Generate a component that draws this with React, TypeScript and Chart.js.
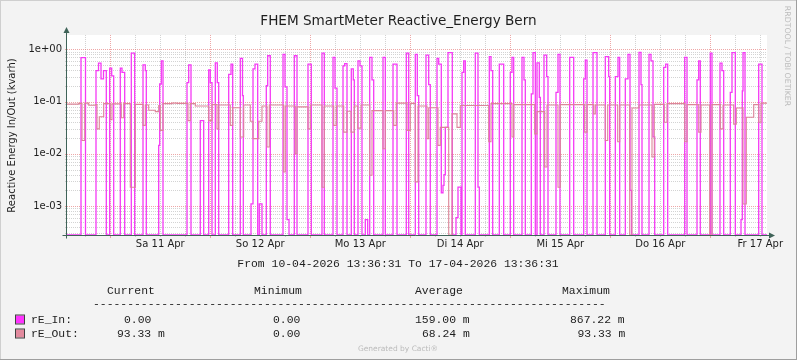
import React, { useEffect, useRef } from "react";
import { Chart, registerables } from "chart.js";

Chart.register(...registerables);

// ---------- texts ----------
const TITLE = "FHEM SmartMeter Reactive_Energy Bern";
const Y_TITLE = "Reactive Energy In/Out (kvarh)";
const PERIOD = "From 10-04-2026 13:36:31 To 17-04-2026 13:36:31";
const CREDIT = "Generated by Cacti\u00AE";
const WATERMARK = "RRDTOOL / TOBI OETIKER";

// ---------- axes ----------
// time axis in days after 10-04-2026 13:36:31
const X_MIN = 0;
const X_MAX = 7;
const FIRST_MIDNIGHT = 0.43298; // 11-04-2026 00:00
const xTickLabels = ["Sa 11 Apr", "So 12 Apr", "Mo 13 Apr", "Di 14 Apr", "Mi 15 Apr", "Do 16 Apr", "Fr 17 Apr"];
const yTickValues = [1e-3, 1e-2, 1e-1, 1];
const yTickLabels = ["1e-03", "1e-02", "1e-01", "1e+00"];
const Y_MIN = 2.8e-4;
const Y_MAX = 1.87;

// ---------- series: change points (value holds until next time) ----------
const inTimes = [
  0,
  0.140, 0.185,
  0.290, 0.315, 0.340, 0.365, 0.393,
  0.427, 0.447, 0.467,
  0.533, 0.550, 0.577,
  0.643, 0.677,
  0.760, 0.783, 0.793,
  0.917, 0.927, 0.943, 0.960,
  1.200, 1.217, 1.240,
  1.333, 1.367,
  1.417, 1.433, 1.450,
  1.483, 1.503, 1.517,
  1.617, 1.640, 1.657,
  1.733, 1.755, 1.763,
  1.840, 1.860, 1.880, 1.907,
  1.923, 1.950,
  1.993, 2.007, 2.033,
  2.160, 2.180, 2.200, 2.220,
  2.273, 2.300,
  2.410, 2.443,
  2.550, 2.573,
  2.660, 2.680, 2.700,
  2.760, 2.777, 2.800,
  2.843, 2.863, 2.873,
  2.910, 2.930, 2.950,
  2.983, 3.007,
  3.027, 3.050, 3.067,
  3.160, 3.183,
  3.260, 3.300,
  3.393, 3.417,
  3.483, 3.503, 3.517,
  3.590, 3.617, 3.633,
  3.700, 3.717, 3.743, 3.760, 3.770, 3.783, 3.810, 3.853,
  3.890, 3.910, 3.940,
  3.950, 3.967, 3.983,
  4.083, 4.110, 4.123,
  4.223, 4.240, 4.257,
  4.323, 4.367,
  4.433, 4.450, 4.467,
  4.550, 4.570, 4.583,
  4.643, 4.660, 4.683,
  4.700, 4.723, 4.733,
  4.770, 4.797, 4.810,
  4.890, 4.910, 4.930,
  5.027, 5.067,
  5.167, 5.183, 5.200,
  5.260, 5.300,
  5.383, 5.417, 5.427,
  5.483, 5.510, 5.527,
  5.583, 5.610, 5.630, 5.645,
  5.720, 5.740, 5.750,
  5.820, 5.840, 5.860, 5.877,
  5.967, 5.987, 6.007,
  6.177, 6.200,
  6.300, 6.317, 6.333,
  6.433, 6.450,
  6.530, 6.550, 6.567,
  6.633, 6.650, 6.683,
  6.740, 6.753, 6.760, 6.780,
  6.917, 6.950,
];
const inValues = [
  0,
  0.69, 0,
  0.39, 0.54, 0.27, 0.39, 0,
  0.435, 0.31, 0,
  0.435, 0.36, 0,
  0.84, 0,
  0.50, 0.39, 0,
  0.0145, 0.216, 0.60, 0,
  0.23, 0.50, 0,
  0.043, 0,
  0.40, 0.23, 0,
  0.55, 0.23, 0,
  0.33, 0.52, 0,
  0.67, 0.13, 0,
  0.0011, 0.42, 0.52, 0,
  0.0011, 0,
  0.20, 0.75, 0,
  0.80, 0.19, 0.00055, 0,
  0.75, 0,
  0.52, 0,
  0.84, 0,
  0.70, 0.18, 0,
  0.48, 0.53, 0,
  0.42, 0.26, 0,
  0.60, 0.48, 0,
  0.00055, 0,
  0.70, 0.26, 0,
  0.70, 0,
  0.52, 0,
  0.84, 0,
  0.80, 0.13, 0,
  0.77, 0.21, 0,
  0.67, 0.52, 0.0018, 0.0025, 0.004, 0.032, 0.86, 0,
  0.0006, 0.0023, 0,
  0.36, 0.60, 0,
  0.84, 0.0023, 0,
  0.72, 0.39, 0,
  0.52, 0,
  0.36, 0.70, 0,
  0.70, 0.26, 0,
  0.14, 0.86, 0,
  0.55, 0.12, 0,
  0.77, 0.30, 0,
  0.15, 0.80, 0,
  0.70, 0,
  0.27, 0.62, 0,
  0.86, 0,
  0.72, 0.30, 0,
  0.30, 0.70, 0,
  0.27, 0.80, 0.002, 0,
  0.867, 0.21, 0,
  0.80, 0.60, 0.021, 0,
  0.45, 0.52, 0,
  0.70, 0,
  0.26, 0.60, 0,
  0.84, 0,
  0.54, 0.39, 0,
  0.15, 0.86, 0,
  0.00055, 0.16, 0.86, 0,
  0.52, 0,
];

const outTimes = [
  0.000, 0.117, 0.150, 0.177, 0.217, 0.283, 0.300, 0.323, 0.367, 0.433,
  0.450, 0.543, 0.567, 0.633, 0.683, 0.760, 0.783, 0.817, 0.883, 0.917,
  0.933, 0.960, 1.050, 1.100, 1.210, 1.233, 1.283, 1.417, 1.450, 1.500,
  1.517, 1.633, 1.657, 1.733, 1.767, 1.833, 1.860, 1.917, 1.950, 2.000,
  2.023, 2.167, 2.183, 2.283, 2.300, 2.410, 2.433, 2.550, 2.573, 2.667,
  2.693, 2.767, 2.800, 2.840, 2.873, 2.907, 2.940, 3.027, 3.050, 3.160,
  3.183, 3.267, 3.293, 3.400, 3.433, 3.483, 3.510, 3.600, 3.617, 3.710,
  3.733, 3.817, 3.850, 3.900, 3.933, 4.217, 4.240, 4.450, 4.467, 4.677,
  4.700, 4.777, 4.800, 4.910, 4.933, 5.177, 5.200, 5.267, 5.283, 5.383,
  5.407, 5.507, 5.527, 5.627, 5.650, 5.720, 5.850, 5.873, 5.973, 6.000,
  6.177, 6.200, 6.317, 6.340, 6.427, 6.450, 6.533, 6.560, 6.667, 6.693,
  6.760, 6.793, 6.867, 6.917, 6.940, 7.000,
];
const outValues = [
  0.089, 0.092, 0.018, 0.0933, 0.085, 0.087, 0.030, 0.051, 0.091, 0.045,
  0.090, 0.049, 0.091, 0.0023, 0.088, 0.035, 0.086, 0.068, 0.064, 0.084,
  0.028, 0.091, 0.0933, 0.092, 0.043, 0.091, 0.082, 0.043, 0.087, 0.030,
  0.086, 0.035, 0.076, 0.021, 0.086, 0.042, 0.0195, 0.042, 0.082, 0.0135,
  0.086, 0.0045, 0.082, 0.010, 0.079, 0.030, 0.086, 0.0023, 0.082, 0.035,
  0.082, 0.026, 0.065, 0.026, 0.082, 0.031, 0.086, 0.0039, 0.067, 0.0125,
  0.067, 0.035, 0.093, 0.028, 0.092, 0.0029, 0.082, 0.0195, 0.076, 0.0145,
  0.032, 0, 0.058, 0.032, 0.084, 0.017, 0.091, 0.021, 0.087, 0.024,
  0.064, 0.0056, 0.086, 0.0023, 0.087, 0.026, 0.087, 0.058, 0.086, 0.018,
  0.086, 0.017, 0.086, 0, 0.075, 0.086, 0.0087, 0.088, 0.040, 0.091,
  0.017, 0.087, 0.026, 0.086, 0, 0.087, 0.030, 0.086, 0.037, 0.075,
  0.0011, 0.050, 0.087, 0.040, 0.0933, 0.0933,
];

// ---------- legend ----------
const legendNames = ["rE_In:", "rE_Out:"];
const legendHeaders = ["Current", "Minimum", "Average", "Maximum"];
const legendCurrent = ["0.00", "93.33 m"];
const legendMinimum = ["0.00", "0.00"];
const legendAverage = ["159.00 m", "68.24 m"];
const legendMaximum = ["867.22 m", "93.33 m"];

// ---------- styles ----------
const W = 797;
const H = 360;
const COLOR_IN = "#F53AF5";
const COLOR_IN_BOX = "#FF33FF";
const COLOR_OUT = "#DC8599";
const COLOR_OUT_BOX = "#E28A9E";
const BG = "#F3F3F3";
const GRID = "rgba(150,150,150,0.42)";
const MGRID = "rgba(222,79,79,0.5)";
const AXIS = "#3F6358";
const TEXT = "#1E1E1E";
const SANS = "'DejaVu Sans', sans-serif";
const MONO = "'Liberation Mono', monospace";

function buildPoints(times: number[], values: number[], end: number) {
  const n = Math.min(times.length, values.length);
  const pts: { x: number; y: number }[] = [];
  for (let i = 0; i < n; i++) pts.push({ x: times[i], y: values[i] });
  if (pts.length && pts[pts.length - 1].x < end) pts.push({ x: end, y: pts[pts.length - 1].y });
  return pts;
}

const rrdPlugin = {
  id: "rrdDecor",
  beforeDraw(chart: any) {
    const { ctx, chartArea: a } = chart;
    ctx.save();
    ctx.fillStyle = BG;
    ctx.fillRect(0, 0, W, H);
    ctx.fillStyle = "#CFCFCF";
    ctx.fillRect(0, 0, W, 1);
    ctx.fillRect(0, 0, 1, H);
    ctx.fillStyle = "#9E9E9E";
    ctx.fillRect(0, H - 1, W, 1);
    ctx.fillRect(W - 1, 0, 1, H);
    ctx.fillStyle = "#FFFFFF";
    ctx.fillRect(a.left, a.top, a.right - a.left, a.bottom - a.top);
    ctx.restore();
  },
  beforeDatasetsDraw(chart: any) {
    const { ctx, chartArea: a } = chart;
    const xs = chart.scales.x;
    const ys = chart.scales.y;
    ctx.save();
    ctx.lineWidth = 1;
    const hline = (v: number, color: string) => {
      const py = Math.round(ys.getPixelForValue(v)) + 0.5;
      ctx.strokeStyle = color;
      ctx.setLineDash([1, 1]);
      ctx.beginPath();
      ctx.moveTo(a.left, py);
      ctx.lineTo(a.right, py);
      ctx.stroke();
      ctx.setLineDash([]);
      ctx.beginPath();
      ctx.moveTo(a.left - 2, py);
      ctx.lineTo(a.left, py);
      ctx.stroke();
    };
    const vline = (t: number, color: string, tick: number) => {
      const px = Math.round(xs.getPixelForValue(t)) + 0.5;
      ctx.strokeStyle = color;
      ctx.setLineDash([1, 1]);
      ctx.beginPath();
      ctx.moveTo(px, a.top);
      ctx.lineTo(px, a.bottom);
      ctx.stroke();
      ctx.setLineDash([]);
      ctx.beginPath();
      ctx.moveTo(px, a.bottom);
      ctx.lineTo(px, a.bottom + tick);
      ctx.stroke();
    };
    // minor horizontal
    for (let e = -4; e <= 0; e++) {
      for (let m = 2; m <= 9; m++) {
        const v = m * Math.pow(10, e);
        if (v > Y_MIN && v < Y_MAX) hline(v, GRID);
      }
    }
    // vertical every 6 hours
    for (let k = -1; k <= 28; k++) {
      const t = FIRST_MIDNIGHT + k * 0.25;
      if (t <= X_MIN || t >= X_MAX) continue;
      if (k % 4 !== 0) vline(t, GRID, 2);
    }
    for (let k = 0; k <= 7; k++) {
      const t = FIRST_MIDNIGHT + k;
      if (t <= X_MIN || t >= X_MAX) continue;
      vline(t, MGRID, 3);
    }
    yTickValues.forEach((v) => hline(v, MGRID));
    ctx.restore();
  },
  afterDatasetsDraw(chart: any) {
    const { ctx, chartArea: a } = chart;
    ctx.save();
    ctx.strokeStyle = AXIS;
    ctx.fillStyle = AXIS;
    ctx.lineWidth = 1;
    const ax = Math.round(a.left) - 0.5;
    const ay = Math.round(a.bottom) + 0.5;
    ctx.beginPath();
    ctx.moveTo(ax, ay + 3);
    ctx.lineTo(ax, a.top - 3);
    ctx.moveTo(ax - 4, ay);
    ctx.lineTo(a.right + 2, ay);
    ctx.stroke();
    // arrows
    ctx.beginPath();
    ctx.moveTo(ax, a.top - 8);
    ctx.lineTo(ax - 3, a.top - 2);
    ctx.lineTo(ax + 3, a.top - 2);
    ctx.closePath();
    ctx.fill();
    ctx.beginPath();
    ctx.moveTo(a.right + 8, ay);
    ctx.lineTo(a.right + 2, ay - 3);
    ctx.lineTo(a.right + 2, ay + 3);
    ctx.closePath();
    ctx.fill();
    ctx.restore();
  },
  afterDraw(chart: any) {
    const { ctx, chartArea: a } = chart;
    ctx.save();
    ctx.fillStyle = TEXT;
    ctx.textBaseline = "middle";
    // title
    ctx.font = `13.6px ${SANS}`;
    ctx.textAlign = "center";
    ctx.fillText(TITLE, 398.5, 21.5);
    // y axis title
    ctx.save();
    ctx.translate(12, (a.top + a.bottom) / 2 + 0.5);
    ctx.rotate(-Math.PI / 2);
    ctx.font = `10px ${SANS}`;
    ctx.fillText(Y_TITLE, 0, 0);
    ctx.restore();
    // period
    ctx.font = `11.4px ${MONO}`;
    ctx.fillText(PERIOD, 398, 263.5);
    // legend
    ctx.textAlign = "left";
    const hx = [107, 254, 415, 562];
    legendHeaders.forEach((h, i) => ctx.fillText(h, hx[i], 291));
    ctx.fillText("-".repeat(75), 93, 303.5);
    const rows = [319.5, 333.5];
    const boxColors = [COLOR_IN_BOX, COLOR_OUT_BOX];
    const cols = [legendCurrent, legendMinimum, legendAverage, legendMaximum];
    const colX = [
      [124, 273, 415, 570],
      [117, 273, 422, 577.5],
    ];
    for (let r = 0; r < 2; r++) {
      ctx.fillStyle = boxColors[r];
      ctx.fillRect(16, rows[r] - 4, 8, 8);
      ctx.strokeStyle = "#404040";
      ctx.lineWidth = 1;
      ctx.strokeRect(15.5, rows[r] - 4.5, 9, 9);
      ctx.fillStyle = TEXT;
      ctx.fillText(legendNames[r], 31, rows[r]);
      cols.forEach((c, i) => ctx.fillText(c[r], colX[r][i], rows[r]));
    }
    // credits
    ctx.fillStyle = "#BBBBBB";
    ctx.textAlign = "center";
    ctx.font = `7.5px ${SANS}`;
    ctx.fillText(CREDIT, 398, 349.5);
    ctx.save();
    ctx.translate(787.5, 56);
    ctx.rotate(Math.PI / 2);
    ctx.font = `7.8px ${SANS}`;
    ctx.fillText(WATERMARK, 0, 0);
    ctx.restore();
    ctx.restore();
  },
};

export default function App() {
  const ref = useRef<HTMLCanvasElement | null>(null);
  useEffect(() => {
    document.body.style.margin = "0";
    const canvas = ref.current;
    if (!canvas) return;
    const chart = new Chart(canvas, {
      type: "line",
      data: {
        datasets: [
          {
            label: "rE_Out",
            data: buildPoints(outTimes, outValues, X_MAX),
            borderColor: COLOR_OUT,
            borderWidth: 1.1,
            pointRadius: 0,
            stepped: true,
            fill: false,
            order: 0,
          },
          {
            label: "rE_In",
            data: buildPoints(inTimes, inValues, X_MAX),
            borderColor: COLOR_IN,
            borderWidth: 1.3,
            pointRadius: 0,
            stepped: true,
            fill: false,
            order: 1,
          },
        ],
      },
      options: {
        responsive: false,
        animation: false,
        devicePixelRatio: 1,
        parsing: false,
        normalized: true,
        events: [],
        layout: { padding: { left: 0, top: 35, right: 30, bottom: 0 } },
        plugins: { legend: { display: false }, tooltip: { enabled: false }, title: { display: false } },
        scales: {
          x: {
            type: "linear",
            min: X_MIN,
            max: X_MAX,
            grid: { display: false, drawTicks: false },
            border: { display: false },
            afterBuildTicks: (s: any) => {
              s.ticks = xTickLabels.map((_, i) => ({ value: FIRST_MIDNIGHT + 0.5 + i }));
            },
            afterFit: (s: any) => {
              s.height = 125;
            },
            ticks: {
              autoSkip: false,
              maxRotation: 0,
              minRotation: 0,
              padding: 3,
              color: TEXT,
              font: { family: "DejaVu Sans", size: 10 },
              callback: (_v: any, i: number) => xTickLabels[i],
            },
          },
          y: {
            type: "logarithmic",
            min: Y_MIN,
            max: Y_MAX,
            grid: { display: false, drawTicks: false },
            border: { display: false },
            afterBuildTicks: (s: any) => {
              s.ticks = yTickValues.map((v) => ({ value: v }));
            },
            afterFit: (s: any) => {
              s.width = 67;
            },
            ticks: {
              autoSkip: false,
              padding: 5,
              color: TEXT,
              font: { family: "DejaVu Sans", size: 10 },
              callback: (_v: any, i: number) => yTickLabels[i],
            },
          },
        },
      },
      plugins: [rrdPlugin],
    } as any);
    return () => chart.destroy();
  }, []);
  return (
    <div style={{ width: W, height: H }}>
      <canvas ref={ref} width={W} height={H} style={{ display: "block", width: W, height: H }} />
    </div>
  );
}
